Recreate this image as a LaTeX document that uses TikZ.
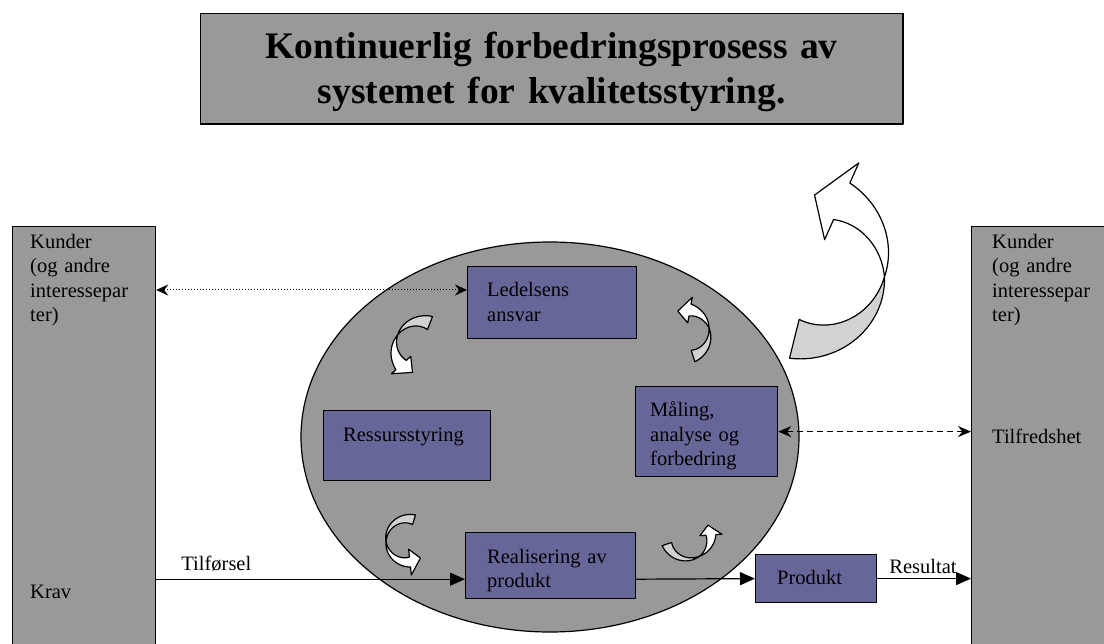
\documentclass[tikz,border=0pt]{standalone}
\usepackage{fontspec}
\setmainfont{Liberation Serif}
\usetikzlibrary{arrows.meta,calc,shapes.geometric}

\definecolor{panelgray}{RGB}{153,153,153}
\definecolor{boxblue}{RGB}{102,102,153}
\definecolor{ribbongray}{RGB}{210,210,210}

% Twisted ribbon arrow bent along a circle.
% #1,#2 centre, #3 radius, #4 half width, #5 head half width,
% #6 tail angle, #7 twist angle, #8 head base angle, #9 tip angle
\newcommand{\ribbonarrow}[9]{%
  \filldraw[ribback]
    plot[domain=#6:#7, samples=30]
      ({#1+(#3+#4*((#7)-(\x))/((#7)-(#6)))*cos(\x)}, {#2+(#3+#4*((#7)-(\x))/((#7)-(#6)))*sin(\x)})
    -- plot[domain=#7:#6, samples=30]
      ({#1+(#3-#4*((#7)-(\x))/((#7)-(#6)))*cos(\x)}, {#2+(#3-#4*((#7)-(\x))/((#7)-(#6)))*sin(\x)})
    -- cycle;
  \filldraw[ribfront]
    plot[domain=#7:#8, samples=30]
      ({#1+(#3+#4*((\x)-(#7))/((#8)-(#7)))*cos(\x)}, {#2+(#3+#4*((\x)-(#7))/((#8)-(#7)))*sin(\x)})
    -- ({#1+(#3+#5)*cos(#8)}, {#2+(#3+#5)*sin(#8)})
    -- ({#1+#3*cos(#9)}, {#2+#3*sin(#9)})
    -- ({#1+(#3-#5)*cos(#8)}, {#2+(#3-#5)*sin(#8)})
    -- plot[domain=#8:#7, samples=30]
      ({#1+(#3-#4*((\x)-(#7))/((#8)-(#7)))*cos(\x)}, {#2+(#3-#4*((\x)-(#7))/((#8)-(#7)))*sin(\x)})
    -- cycle;
}

\begin{document}
\begin{tikzpicture}[x=1pt, y=-1pt, line join=round,
  outline/.style={draw=black, line width=1.2pt},
  sidepanel/.style={outline, fill=panelgray, rectangle, inner sep=0pt, anchor=north west},
  procbox/.style={outline, fill=boxblue, rectangle, inner sep=0pt, anchor=north west},
  bodytext/.style={inner sep=0pt, anchor=base west, text width=150pt, align=left,
                   font=\fontsize{20.5}{24.5}\selectfont},
  flow/.style={line width=1.2pt, -{Triangle[length=15pt,width=13pt]}},
  dotlink/.style={line width=1pt, dash pattern=on 1pt off 2pt,
                  {Stealth[length=12pt,width=11pt]}-{Stealth[length=12pt,width=11pt]}},
  dashlink/.style={line width=1.2pt, dash pattern=on 6pt off 4pt,
                  {Stealth[length=13pt,width=11pt]}-{Stealth[length=13pt,width=11pt]}},
  ribback/.style={fill=ribbongray, draw=black, line width=1.2pt},
  ribfront/.style={fill=white, draw=black, line width=1.2pt}]

\useasboundingbox (0,0) rectangle (1104,644);
\clip (0,0) rectangle (1104,644);

% heading
\node[outline, fill=panelgray, rectangle, inner sep=0pt, anchor=north west,
      minimum width=702pt, minimum height=110pt] (title) at (200,13) {};
\draw[line width=2.4pt] (title.south west) -- (title.south east) -- (title.north east);
\node[inner sep=0pt, anchor=base, text width=690pt, align=center,
      font=\bfseries\fontsize{37.5}{45}\selectfont] (titletext)
      at ($(title.north)+(0,46)$) {Kontinuerlig forbedringsprosess av\\systemet for kvalitetsstyring.};

% customer panels
\node[sidepanel, minimum width=143pt, minimum height=440pt] (kundeL) at (12,226) {};
\node[sidepanel, minimum width=150pt, minimum height=440pt] (kundeR) at (971,226) {};
\node[bodytext] (kundeLtxt) at ($(kundeL.north west)+(18,22.5)$) {Kunder\\(og andre\\interessepar\\ter)};
\node[bodytext] (kravtxt) at ($(kundeL.north west)+(18,372)$) {Krav};
\node[bodytext] (kundeRtxt) at ($(kundeR.north west)+(21,22.5)$) {Kunder\\(og andre\\interessepar\\ter)};
\node[bodytext] (tilfredtxt) at ($(kundeR.north west)+(21,218)$) {Tilfredshet};

% quality management system
\node[outline, fill=panelgray, ellipse, inner sep=0pt,
      minimum width=498pt, minimum height=390pt] (core) at (550,437) {};

\node[procbox, minimum width=169pt, minimum height=72pt] (led) at (467,266) {};
\node[bodytext] (ledtxt) at ($(led.north west)+(20,30.7)$) {Ledelsens\\ansvar};

\node[procbox, minimum width=167pt, minimum height=70pt] (res) at (323,410) {};
\node[bodytext] (restxt) at ($(res.north west)+(20,32)$) {Ressursstyring};

\node[procbox, minimum width=142pt, minimum height=90pt] (maal) at (635,386) {};
\node[bodytext] (maaltxt) at ($(maal.north west)+(15,31)$) {Måling,\\analyse og\\forbedring};

\node[procbox, minimum width=170pt, minimum height=66pt] (real) at (465,532) {};
\node[bodytext] (realtxt) at ($(real.north west)+(22,31)$) {Realisering av\\produkt};

\node[procbox, minimum width=121pt, minimum height=48pt] (prod) at (755,554) {};
\node[bodytext] (prodtxt) at ($(prod.north west)+(22,30.3)$) {Produkt};

% cycle arrows between the processes
\ribbonarrow{420.6}{347.5}{26.2}{7}{13}{-69}{-152}{-222}{-252}
\ribbonarrow{685.9}{333.4}{23.7}{6}{13}{72.6}{-13}{-80}{-110}
\ribbonarrow{407.7}{540.5}{21.7}{5}{13}{-73}{-183}{-276}{-306}
\ribbonarrow{688.3}{536.5}{22.7}{5}{11}{160.6}{59}{-4}{-30}

% improvement arrow up to the heading
\ribbonarrow{812}{268}{73}{20}{42}{104}{7}{-66}{-88}

% links
\coordinate (ledport) at ($(led.north west)+(0,24)$);
\draw[dotlink] (ledport -| kundeL.east) -- (ledport);

\draw[dashlink] (maal.east) -- (maal.east -| kundeR.west);

\coordinate (realin) at ($(real.south west)+(0,-20)$);
\draw[flow] (realin -| kundeL.east) -- (realin);
\node[bodytext] (tilfortxt) at ($(realin -| kundeL.east)+(25,-9)$) {Tilførsel};
\draw[flow] (realin -| real.east) -- (prod.west);
\draw[flow] (prod.east) -- (prod.east -| kundeR.west);
\node[bodytext] (resulttxt) at ($(prod.east)+(12,-5.3)$) {Resultat};

\end{tikzpicture}
\end{document}
